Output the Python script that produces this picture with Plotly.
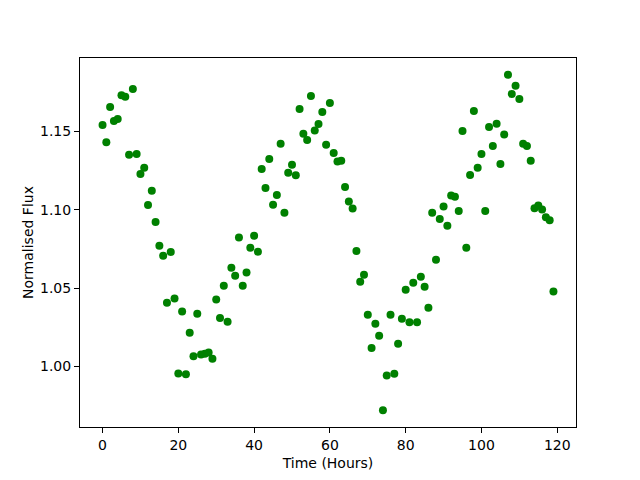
import plotly.graph_objects as go

hours = list(range(120))
flux = [
    1.154, 1.143, 1.1655, 1.1566, 1.1579, 1.173, 1.172, 1.135, 1.177, 1.1356,
    1.1228, 1.1268, 1.103, 1.112, 1.0922, 1.077, 1.0706, 1.0406, 1.073, 1.0433,
    0.9955, 1.035, 0.9949, 1.0215, 1.0064, 1.0336, 1.0075, 1.0081, 1.0089, 1.0049,
    1.0427, 1.0308, 1.0514, 1.0285, 1.0629, 1.0578, 1.0822, 1.0514, 1.0599, 1.0757,
    1.0834, 1.0731, 1.126, 1.1139, 1.1324, 1.1031, 1.1094, 1.1421, 1.098, 1.1235,
    1.1286, 1.1219, 1.1643, 1.1485, 1.1445, 1.1725, 1.1506, 1.1547, 1.1623, 1.1415,
    1.1681, 1.1362, 1.1307, 1.1313, 1.1145, 1.1052, 1.1007, 1.0737, 1.054, 1.0584,
    1.033, 1.0117, 1.0272, 1.0196, 0.972, 0.9941, 1.033, 0.9953, 1.0145, 1.0304,
    1.0489, 1.0282, 1.0533, 1.0282, 1.0572, 1.0508, 1.0374, 1.098, 1.068, 1.0941,
    1.102, 1.0897, 1.109, 1.1082, 1.0992, 1.1502, 1.0757, 1.1222, 1.163, 1.1267,
    1.1356, 1.0992, 1.1528, 1.1407, 1.1549, 1.1292, 1.1479, 1.1861, 1.1738, 1.1791,
    1.1706, 1.142, 1.1407, 1.1313, 1.1009, 1.1026, 1.1001, 1.0952, 1.0933, 1.0478,
]
x_ticks = [0, 20, 40, 60, 80, 100, 120]
y_ticks = [1.00, 1.05, 1.10, 1.15]

fig = go.Figure(go.Scatter(
    x=hours, y=flux, mode="markers",
    marker=dict(color="#008000", size=8, line=dict(width=0)),
))

axis_common = dict(
    showgrid=False, zeroline=False, showline=True, linecolor="black", linewidth=1,
    mirror=True, ticks="outside", ticklen=5, tickwidth=1, tickcolor="black",
    tickfont=dict(family="DejaVu Sans", size=14, color="black"),
)
fig.update_xaxes(**axis_common, range=[-5.95, 124.95], tickvals=x_ticks,
                 title=dict(text="Time (Hours)", font=dict(family="DejaVu Sans", size=14, color="black"), standoff=6))
fig.update_yaxes(**axis_common, range=[0.9613, 1.1968], tickvals=y_ticks, tickformat=".2f",
                 title=dict(text="Normalised Flux", font=dict(family="DejaVu Sans", size=14, color="black"), standoff=3))
fig.update_layout(
    width=632, height=472,
    margin=dict(l=72, r=64, t=50, b=53),
    plot_bgcolor="white", paper_bgcolor="white",
    showlegend=False,
)
fig.write_html("out.html")
